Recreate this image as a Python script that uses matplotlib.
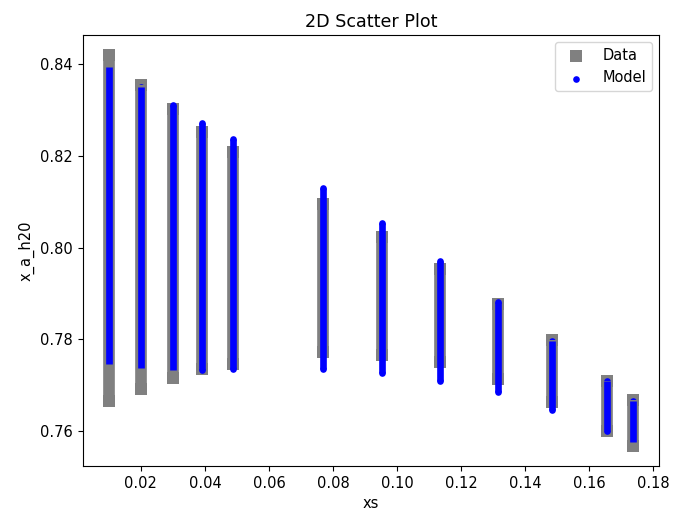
import matplotlib
matplotlib.use("Agg")
import matplotlib.pyplot as plt

# x positions of the measured columns
xs = [0.0100, 0.0200, 0.0300, 0.0392, 0.0487, 0.0769, 0.0954, 0.1133,
      0.1316, 0.1484, 0.1656, 0.1737]

# extent of each column
data_top = [0.8420, 0.8354, 0.8301, 0.8252, 0.8208, 0.8095, 0.8024, 0.7953,
            0.7878, 0.7798, 0.7710, 0.7668]
data_bottom = [0.7666, 0.7692, 0.7715, 0.7735, 0.7747, 0.7772, 0.7767, 0.7750,
               0.7714, 0.7663, 0.7600, 0.7567]
model_top = [0.8394, 0.8350, 0.8310, 0.8272, 0.8236, 0.8129, 0.8053, 0.7971,
             0.7881, 0.7796, 0.7710, 0.7666]
model_bottom = [0.7747, 0.7737, 0.7734, 0.7734, 0.7735, 0.7735, 0.7726, 0.7710,
                0.7686, 0.7647, 0.7600, 0.7577]

plt.rcParams["font.size"] = 10.5

fig = plt.figure(figsize=(6.74, 5.15), dpi=100)
ax = fig.add_axes([0.1227, 0.0951, 0.8551, 0.8369])

# data columns: grey squares stacked into bands
ax.vlines(xs, data_bottom, data_top, colors="gray", linewidth=8.4)
ax.scatter(xs + xs, data_top + data_bottom, marker="s", s=70, c="gray",
           linewidths=0, label="Data")

# model columns: blue dots stacked into bands
ax.vlines(xs, model_bottom, model_top, colors="blue", linewidth=4.8)
ax.scatter(xs + xs, model_top + model_bottom, marker="o", s=23, c="blue",
           linewidths=0, label="Model")

ax.set_xticks([0.02, 0.04, 0.06, 0.08, 0.10, 0.12, 0.14, 0.16, 0.18])
ax.set_yticks([0.76, 0.78, 0.80, 0.82, 0.84])
ax.set_xlabel("xs")
ax.set_ylabel("x_a_h20")
ax.set_title("2D Scatter Plot")
ax.legend(loc="upper right")

fig.savefig("out.png", dpi=100)
